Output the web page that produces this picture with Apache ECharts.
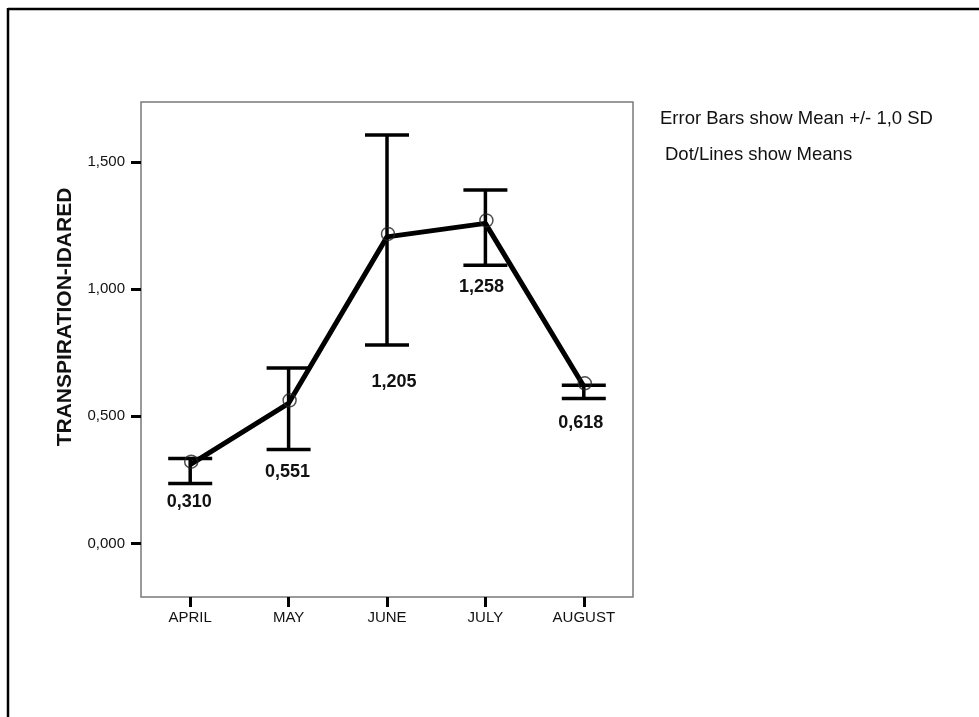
<!DOCTYPE html>
<html>
<head>
<meta charset="utf-8">
<script src="https://cdn.jsdelivr.net/npm/echarts@6/dist/echarts.min.js"></script>
<style>
html,body{margin:0;padding:0;background:#fff;}
#chart{width:979px;height:717px;}
</style>
</head>
<body>
<div id="chart"></div>
<script>
// ---- data ----
const categories = ['APRIL', 'MAY', 'JUNE', 'JULY', 'AUGUST'];
const means = [0.310, 0.551, 1.205, 1.258, 0.618];
const sdLow = [0.236, 0.370, 0.780, 1.094, 0.570];
const sdHigh = [0.334, 0.690, 1.605, 1.389, 0.622];
const yTicks = [0, 0.5, 1.0, 1.5];
const yTitle = 'TRANSPIRATION-IDARED';
const noteLines = ['Error Bars show Mean +/- 1,0 SD', 'Dot/Lines show Means'];

// ---- style-only offsets for the mean labels (pixels) ----
const labelGap = [19, 23, 37, 22, 25];
const labelDx = [-1, -1, 7, -4, -3];

const FONT = "'Liberation Sans', Arial, sans-serif";
const fmt = v => v.toFixed(3).replace('.', ',');

const chart = echarts.init(document.getElementById('chart'));

const errData = categories.map((c, i) => [i, sdLow[i], sdHigh[i], means[i]]);

chart.setOption({
  animation: false,
  backgroundColor: '#fff',
  grid: {
    left: 141, top: 102, width: 492, height: 495,
    show: true, borderColor: '#7a7a7a', borderWidth: 1.5, backgroundColor: 'transparent'
  },
  xAxis: {
    type: 'category',
    data: categories,
    boundaryGap: true,
    axisLine: { show: false, onZero: false },
    axisTick: { show: true, alignWithLabel: true, length: 10, lineStyle: { color: '#000', width: 3 } },
    axisLabel: { color: '#111', fontFamily: FONT, fontSize: 15, margin: 13 },
    splitLine: { show: false }
  },
  yAxis: {
    type: 'value',
    min: -0.210,
    max: 1.735,
    axisLine: { show: false },
    axisTick: { show: true, customValues: yTicks, length: 10, lineStyle: { color: '#000', width: 3 } },
    axisLabel: { customValues: yTicks, color: '#111', fontFamily: FONT, fontSize: 15, margin: 16, formatter: v => fmt(v) },
    splitLine: { show: false }
  },
  series: [
    {
      type: 'custom',
      z: 2,
      data: errData,
      renderItem: function (params, api) {
        const i = api.value(0);
        const lo = api.coord([i, api.value(1)]);
        const hi = api.coord([i, api.value(2)]);
        const x = lo[0];
        const hw = 22;
        const st = { stroke: '#000', lineWidth: 3.5 };
        return {
          type: 'group',
          children: [
            { type: 'line', shape: { x1: x, y1: hi[1], x2: x, y2: lo[1] }, style: st },
            { type: 'line', shape: { x1: x - hw, y1: hi[1], x2: x + hw, y2: hi[1] }, style: st },
            { type: 'line', shape: { x1: x - hw, y1: lo[1], x2: x + hw, y2: lo[1] }, style: st },
            {
              type: 'text',
              style: {
                text: fmt(api.value(3)),
                x: x + labelDx[params.dataIndex],
                y: lo[1] + labelGap[params.dataIndex],
                align: 'center', verticalAlign: 'middle',
                font: 'bold 18px ' + FONT, fill: '#111'
              }
            }
          ]
        };
      }
    },
    {
      type: 'line',
      z: 3,
      data: means,
      showSymbol: false,
      symbol: 'none',
      lineStyle: { color: '#000', width: 5 }
    },
    {
      type: 'scatter',
      z: 4,
      data: means,
      symbol: 'circle',
      symbolSize: 13,
      symbolOffset: [1, -3],
      itemStyle: { color: 'rgba(0,0,0,0)', borderColor: '#222', borderWidth: 1.5 }
    }
  ],
  graphic: [
    { type: 'line', shape: { x1: 8, y1: 9, x2: 979, y2: 9 }, style: { stroke: '#000', lineWidth: 2.5 } },
    { type: 'line', shape: { x1: 8, y1: 8, x2: 8, y2: 717 }, style: { stroke: '#000', lineWidth: 2.5 } },
    {
      type: 'text', x: 65, y: 317, rotation: Math.PI / 2,
      style: { text: yTitle, align: 'center', verticalAlign: 'middle', font: 'bold 21px ' + FONT, fill: '#111' }
    },
    {
      type: 'text', x: 660, y: 119,
      style: { text: noteLines[0], align: 'left', verticalAlign: 'middle', font: '18.5px ' + FONT, fill: '#111' }
    },
    {
      type: 'text', x: 665, y: 155,
      style: { text: noteLines[1], align: 'left', verticalAlign: 'middle', font: '18.5px ' + FONT, fill: '#111' }
    }
  ]
});
</script>
</body>
</html>
